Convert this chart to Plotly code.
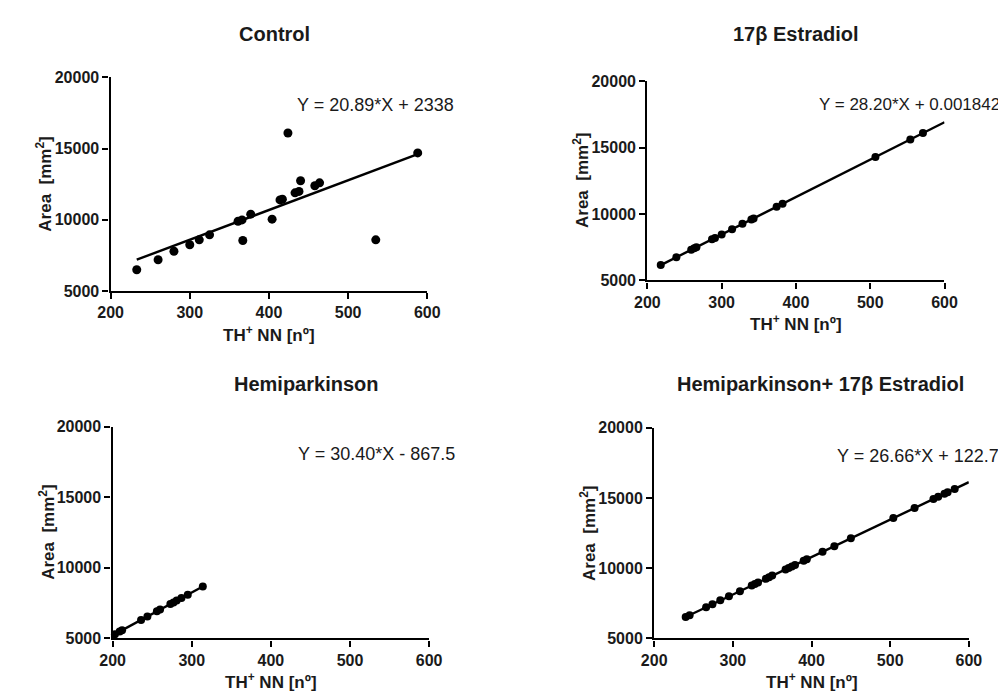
import plotly.graph_objects as go

W, H = 1006, 694

# ---- data ----
titles = ["Control", "17β Estradiol", "Hemiparkinson", "Hemiparkinson+ 17β Estradiol"]
equations = ["Y = 20.89*X + 2338", "Y = 28.20*X + 0.001842",
             "Y = 30.40*X - 867.5", "Y = 26.66*X + 122.7"]

control_x = [233, 260, 280, 300, 312, 325, 361, 366, 367, 377, 404, 414, 417, 424,
             433, 438, 440, 458, 464, 535, 588]
control_y = [6500, 7200, 7800, 8250, 8600, 8950, 9900, 10000, 8550, 10400, 10050, 11400,
             11450, 16100, 11900, 12000, 12750, 12400, 12600, 8600, 14700]

estr_x = [218, 239, 259, 263, 266, 287, 291, 300, 314, 328, 340, 343, 374, 382, 507, 554, 571]
estr_y = [6150, 6740, 7300, 7420, 7500, 8090, 8200, 8460, 8850, 9260, 9590, 9670, 10550,
          10770, 14300, 15620, 16100]

hemi_x = [203, 209, 212, 236, 244, 256, 260, 273, 277, 281, 287, 295, 314]
hemi_y = [5300, 5490, 5580, 6310, 6550, 6920, 7040, 7430, 7550, 7680, 7860, 8100, 8680]

hemie_x = [240, 245, 266, 274, 284, 295, 309, 324, 328, 332, 342, 346, 350, 367, 371, 375,
           379, 390, 394, 414, 429, 450, 504, 531, 555, 561, 569, 573, 582]
hemie_y = [6520, 6650, 7210, 7430, 7710, 7990, 8360, 8760, 8870, 8970, 9240, 9350, 9470,
           9910, 10010, 10120, 10230, 10520, 10630, 11160, 11560, 12120, 13560, 14280, 14920,
           15080, 15290, 15400, 15640]

# regression parameters (from the printed equations) and line x-extent
slopes = [20.89, 28.20, 30.40, 26.66]
intercepts = [2338, 0.001842, -867.5, 122.7]
line_x = [[233, 588], [218, 600], [200, 314], [240, 600]]

xs = [control_x, estr_x, hemi_x, hemie_x]
ys = [control_y, estr_y, hemi_y, hemie_y]

x_ticks = [200, 300, 400, 500, 600]
y_ticks = [5000, 10000, 15000, 20000]

# ---- layout geometry (pixels) ----
boxes = [(92, 417, 63, 282), (643, 948, 67, 271), (94, 419, 421, 638), (650, 973, 422, 638)]
title_pos = [(260, 18), (796, 18), (293, 377), (821, 377)]
eq_pos = [(364, 91), (912, 91), (365, 449), (921, 451)]
eq_size = [18, 17, 18, 18]

FONT = "Liberation Sans, Arial, Helvetica, sans-serif"

def px(x):
    return x / W

def py(y):
    return 1 - y / H

fig = go.Figure()
annotations = []
for i in range(4):
    xa = "x" if i == 0 else f"x{i+1}"
    ya = "y" if i == 0 else f"y{i+1}"
    lx = line_x[i]
    ly = [slopes[i] * v + intercepts[i] for v in lx]
    fig.add_trace(go.Scatter(x=lx, y=ly, mode="lines", line=dict(color="black", width=2.4),
                             xaxis=xa, yaxis=ya, showlegend=False, cliponaxis=False,
                             hoverinfo="skip"))
    fig.add_trace(go.Scatter(x=xs[i], y=ys[i], mode="markers",
                             marker=dict(color="black", size=9 if i == 0 else 8),
                             xaxis=xa, yaxis=ya, showlegend=False, cliponaxis=False))
    x0, x1, y0, y1 = boxes[i]
    axis_common = dict(showline=True, linecolor="black", linewidth=2.4, ticks="outside",
                       ticklen=6, tickwidth=2.4, tickcolor="black", showgrid=False,
                       zeroline=False, tickfont=dict(family=FONT, size=16, color="#1a1a1a"))
    fig.update_layout({
        ("xaxis" if i == 0 else f"xaxis{i+1}"): dict(
            domain=[px(x0), px(x1)], range=[200, 600], tickvals=x_ticks,
            ticktext=[f"<b>{v}</b>" for v in x_ticks], anchor=ya, **axis_common),
        ("yaxis" if i == 0 else f"yaxis{i+1}"): dict(
            domain=[py(y1), py(y0)], range=[5000, 20000], tickvals=y_ticks,
            ticktext=[f"<b>{v}</b>" for v in y_ticks], anchor=xa, **axis_common),
    })
    common = dict(xref="paper", yref="paper", showarrow=False,
                  xanchor="center", yanchor="middle")
    tx, ty = title_pos[i]
    annotations.append(dict(x=px(tx), y=py(ty), text=f"<b>{titles[i]}</b>",
                            font=dict(family=FONT, size=20, color="#1a1a1a"), **common))
    ex, ey = eq_pos[i]
    annotations.append(dict(x=px(ex), y=py(ey), text=equations[i],
                            font=dict(family=FONT, size=eq_size[i], color="#1a1a1a"), **common))
    # x axis title
    annotations.append(dict(x=px((x0 + x1) / 2), y=py(y1 + 44),
                            text="<b>TH<sup>+</sup> NN [nº]</b>",
                            font=dict(family=FONT, size=17, color="#1a1a1a"), **common))
    # y axis title
    annotations.append(dict(x=px(x0 - 68), y=py((y0 + y1) / 2),
                            text="<b>Area  [mm<sup>2</sup>]</b>", textangle=-90,
                            font=dict(family=FONT, size=17, color="#1a1a1a"), **common))

fig.update_layout(width=W, height=H, margin=dict(l=0, r=0, t=0, b=0),
                  paper_bgcolor="white", plot_bgcolor="white", annotations=annotations)

fig.write_html("out.html")
